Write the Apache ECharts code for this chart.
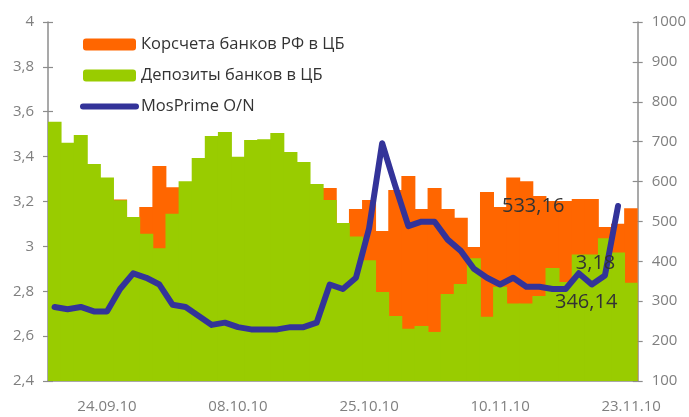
<!DOCTYPE html>
<html>
<head>
<meta charset="utf-8">
<script src="https://cdn.jsdelivr.net/npm/echarts@6/dist/echarts.min.js"></script>
<style>
  html, body { margin: 0; padding: 0; background: #fff; }
  #chart { width: 689px; height: 417px; }
</style>
</head>
<body>
<div id="chart"></div>
<script>
// торговые дни (подписаны только 24.09, 08.10, 25.10, 10.11, 23.11)
const categories = [
  '20.09.10','21.09.10','22.09.10','23.09.10','24.09.10',
  '27.09.10','28.09.10','29.09.10','30.09.10','01.10.10',
  '04.10.10','05.10.10','06.10.10','07.10.10','08.10.10',
  '12.10.10','13.10.10','14.10.10','15.10.10','18.10.10',
  '19.10.10','20.10.10','21.10.10','22.10.10','25.10.10',
  '26.10.10','27.10.10','28.10.10','29.10.10','01.11.10',
  '02.11.10','03.11.10','08.11.10','09.11.10','10.11.10',
  '11.11.10','12.11.10','13.11.10','15.11.10','16.11.10',
  '17.11.10','18.11.10','19.11.10','22.11.10','23.11.10'
];

// Корсчета банков РФ в ЦБ, млрд руб (правая шкала)
const korschet = [
  560, 540, 520, 500, 530, 555, 470, 536, 639, 586,
  560, 540, 520, 500, 530, 510, 490, 500, 520, 540,
  560, 584, 460, 531, 554, 476, 579, 614, 531, 584,
  531, 509, 436, 574, 536, 610, 601, 564, 551, 551,
  556, 556, 486, 494, 533.16
];

// Депозиты банков в ЦБ, млрд руб (правая шкала)
const deposits = [
  750, 697, 717, 644, 610, 553, 511, 469, 433, 519,
  601, 659, 714, 724, 662, 704, 706, 722, 674, 649,
  594, 554, 496, 462, 403, 323, 263, 231, 238, 223,
  318, 343, 408, 261, 336, 294, 294, 313, 383, 348,
  417, 417, 458, 422, 346.14
];

// MosPrime O/N, % (левая шкала), за последний день значения нет
const mosprime = [
  2.73, 2.72, 2.73, 2.71, 2.71, 2.81, 2.88, 2.86, 2.83, 2.74,
  2.73, 2.69, 2.65, 2.66, 2.64, 2.63, 2.63, 2.63, 2.64, 2.64,
  2.66, 2.83, 2.81, 2.86, 3.08, 3.46, 3.27, 3.09, 3.11, 3.11,
  3.03, 2.98, 2.90, 2.86, 2.83, 2.86, 2.82, 2.82, 2.81, 2.81,
  2.88, 2.83, 2.87, 3.18, null
];

const leftTicks = { min: 2.4, max: 4, interval: 0.2 };
const rightTicks = { min: 100, max: 1000, interval: 100 };

const FONT = '"Open Sans", "Noto Sans", sans-serif';
const axisColor = '#8c8c8c';
const labelColor = '#7f7f7f';
const ORANGE = '#ff6600';
const GREEN = '#99cc00';
const BLUE = '#333399';

const comma = (v) => String(Math.round(v * 100) / 100).replace('.', ',');

const valueLabel = (pos) => ({
  show: true,
  position: pos,
  align: 'center',
  verticalAlign: 'middle',
  formatter: (p) => comma(p.value),
  fontFamily: FONT,
  fontSize: 20,
  color: '#333333'
});

// подпись на последнем значении ряда
function lastLabeled(arr, idx, pos) {
  return arr.map((v, i) => (i === idx ? { value: v, label: valueLabel(pos) } : v));
}

const lastLine = mosprime.length - 2;
const lineData = mosprime.map((v, i) => {
  if (i !== lastLine) return v;
  return { value: v, symbol: 'circle', symbolSize: 1, label: valueLabel([-22, 58]) };
});

const valueAxis = (t, pos, inside, main) => ({
  type: 'value',
  position: pos,
  min: t.min,
  max: t.max,
  interval: t.interval,
  splitLine: { show: false },
  splitArea: { show: false },
  axisLine: { show: main, lineStyle: { color: axisColor, width: 1.5 } },
  axisTick: { show: true, inside: inside, length: 5, lineStyle: { color: axisColor, width: 1.2 } },
  axisLabel: {
    show: main,
    margin: 14,
    fontFamily: FONT,
    fontSize: 15,
    color: labelColor,
    formatter: (v) => comma(v)
  }
});

const chart = echarts.init(document.getElementById('chart'));
chart.setOption({
  animation: false,
  textStyle: { fontFamily: FONT },
  grid: { left: 48, right: 51, top: 22, bottom: 36 },
  legend: {
    orient: 'vertical',
    left: 80,
    top: 36,
    padding: 0,
    itemWidth: 53,
    itemHeight: 12,
    itemGap: 14,
    textStyle: { fontFamily: FONT, fontSize: 16.5, color: '#333333' },
    lineStyle: { width: 'inherit', cap: 'round' },
    data: [
      'Корсчета банков РФ в ЦБ',
      'Депозиты банков в ЦБ',
      { name: 'MosPrime O/N', itemStyle: { opacity: 0, color: 'rgba(0,0,0,0)' } }
    ]
  },
  xAxis: {
    type: 'category',
    data: categories,
    boundaryGap: true,
    splitLine: { show: false },
    splitArea: { show: false },
    axisLine: { onZero: false, lineStyle: { color: axisColor, width: 1.5 } },
    axisTick: { interval: (i) => i % 5 === 0, length: 5, lineStyle: { color: axisColor, width: 1.2 } },
    axisLabel: {
      interval: (i) => i % 10 === 4,
      margin: 18,
      fontFamily: FONT,
      fontSize: 15,
      color: labelColor
    }
  },
  yAxis: [
    valueAxis(leftTicks, 'left', false, true),
    valueAxis(rightTicks, 'right', false, true),
    valueAxis(leftTicks, 'left', true, false),
    valueAxis(rightTicks, 'right', true, false)
  ],
  series: [
    {
      name: 'Корсчета банков РФ в ЦБ',
      type: 'bar',
      yAxisIndex: 1,
      barGap: '-100%',
      barWidth: 14,
      itemStyle: { color: ORANGE },
      data: lastLabeled(korschet, korschet.length - 1, [-91, -2])
    },
    {
      name: 'Депозиты банков в ЦБ',
      type: 'bar',
      yAxisIndex: 1,
      barGap: '-100%',
      barWidth: 14,
      itemStyle: { color: GREEN },
      data: lastLabeled(deposits, deposits.length - 1, [-38, 19])
    },
    {
      name: 'MosPrime O/N',
      type: 'line',
      yAxisIndex: 0,
      symbol: 'none',
      z: 5,
      itemStyle: { color: BLUE },
      lineStyle: { color: BLUE, width: 6, cap: 'round', join: 'round' },
      data: lineData
    }
  ]
});
</script>
</body>
</html>
